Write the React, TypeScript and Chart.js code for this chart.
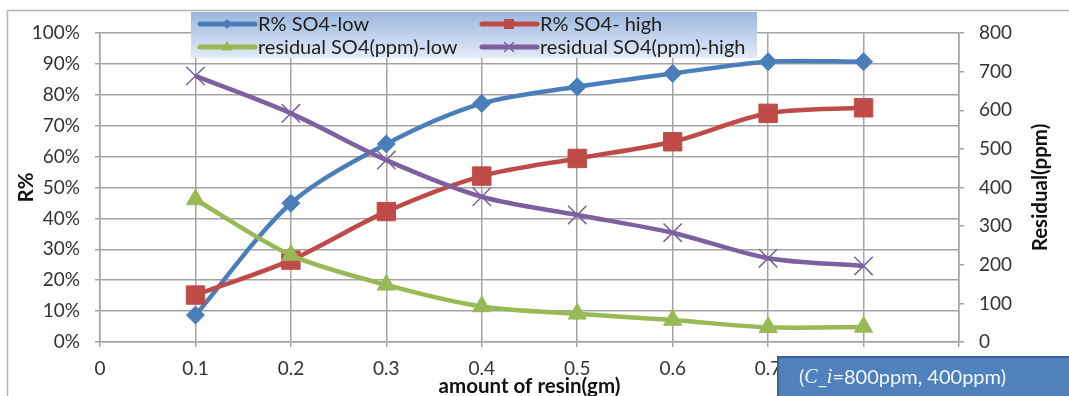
import React, { useEffect, useRef } from 'react';
import { Chart, registerables } from 'chart.js';

Chart.register(...registerables);

// ---------- data ----------
const resinAmounts = [0.1, 0.2, 0.3, 0.4, 0.5, 0.6, 0.7, 0.8];
const rPercentLow = [8.7, 44.9, 64.1, 77.2, 82.6, 86.9, 90.7, 90.7];
const rPercentHigh = [15.2, 26.5, 42.2, 53.7, 59.4, 64.8, 74.0, 75.8];
const residualLow = [369, 225, 148, 92, 73, 57, 38, 39];
const residualHigh = [689, 592, 471, 376, 329, 283, 217, 197];

const seriesLabels = [
  'R% SO4-low',
  'R% SO4- high',
  'residual SO4(ppm)-low',
  'residual SO4(ppm)-high',
];
const seriesColors = ['#4a7ebb', '#be4b48', '#98b954', '#7d60a0'];
const seriesMarkers = ['rectRot', 'rect', 'triangle', 'crossRot'];

const xTitle = 'amount of resin(gm)';
const yLeftTitle = 'R%';
const yRightTitle = 'Residual(ppm)';
const noteParts = [
  { t: '(', italic: false },
  { t: 'C', italic: true },
  { t: '_', italic: false },
  { t: 'i', italic: true },
  { t: '=800ppm, 400ppm)', italic: false },
];

const FONT = 'Lato';
const W = 1069;
const H = 396;

function toPoints(ys: number[]) {
  return resinAmounts.map((x, i) => ({ x, y: ys[i] }));
}

function drawMarker(ctx: CanvasRenderingContext2D, kind: string, x: number, y: number, s: number, color: string) {
  ctx.save();
  ctx.fillStyle = color;
  ctx.strokeStyle = color;
  ctx.beginPath();
  if (kind === 'rectRot') {
    ctx.moveTo(x - s, y);
    ctx.lineTo(x, y - s);
    ctx.lineTo(x + s, y);
    ctx.lineTo(x, y + s);
    ctx.closePath();
    ctx.fill();
  } else if (kind === 'rect') {
    ctx.rect(x - s, y - s, 2 * s, 2 * s);
    ctx.fill();
  } else if (kind === 'triangle') {
    ctx.moveTo(x, y - s);
    ctx.lineTo(x + s * 0.95, y + s * 0.6);
    ctx.lineTo(x - s * 0.95, y + s * 0.6);
    ctx.closePath();
    ctx.fill();
  } else {
    ctx.lineWidth = 1.5;
    ctx.moveTo(x - s, y - s);
    ctx.lineTo(x + s, y + s);
    ctx.moveTo(x + s, y - s);
    ctx.lineTo(x - s, y + s);
    ctx.stroke();
  }
  ctx.restore();
}

const decorPlugin = {
  id: 'decor',
  beforeDraw(chart: any) {
    const ctx: CanvasRenderingContext2D = chart.ctx;
    ctx.save();
    ctx.fillStyle = '#ffffff';
    ctx.fillRect(0, 0, W, H);
    // outer frame (top and left edges visible)
    ctx.strokeStyle = '#b4b4b4';
    ctx.lineWidth = 1.5;
    ctx.beginPath();
    ctx.moveTo(7.5, H + 5);
    ctx.lineTo(7.5, 10.5);
    ctx.lineTo(W + 5, 10.5);
    ctx.stroke();
    ctx.restore();
  },
  afterDraw(chart: any) {
    const ctx: CanvasRenderingContext2D = chart.ctx;
    const area = chart.chartArea;
    ctx.save();
    // axis titles
    ctx.fillStyle = '#111111';
    ctx.font = `bold 20.5px ${FONT}`;
    ctx.textAlign = 'center';
    ctx.textBaseline = 'middle';
    const midY = (area.top + area.bottom) / 2;
    ctx.save();
    ctx.translate(26, midY);
    ctx.rotate(-Math.PI / 2);
    ctx.fillText(yLeftTitle, 0, 0);
    ctx.restore();
    ctx.save();
    ctx.translate(1040, midY);
    ctx.rotate(-Math.PI / 2);
    ctx.fillText(yRightTitle, 0, 0);
    ctx.restore();
    ctx.fillText(xTitle, (area.left + area.right) / 2, 386);

    // legend box
    const lx = 191, ly = 12, lw = 566, lh = 46;
    const grad = ctx.createLinearGradient(0, ly, 0, ly + lh);
    grad.addColorStop(0, '#9cb7de');
    grad.addColorStop(1, '#e3ebf6');
    ctx.fillStyle = grad;
    ctx.fillRect(lx, ly, lw, lh);
    const colX = [200, 482];
    const rowY = [24, 47];
    const markerSize = [5, 5, 6, 4.5];
    ctx.font = `20px ${FONT}`;
    ctx.textAlign = 'left';
    ctx.textBaseline = 'middle';
    seriesLabels.forEach((label, i) => {
      const cx = colX[i % 2];
      const cy = rowY[Math.floor(i / 2)];
      ctx.strokeStyle = seriesColors[i];
      ctx.lineWidth = 5;
      ctx.lineCap = 'round';
      ctx.beginPath();
      ctx.moveTo(cx, cy);
      ctx.lineTo(cx + 55, cy);
      ctx.stroke();
      drawMarker(ctx, seriesMarkers[i], cx + 27, cy, markerSize[i], seriesColors[i]);
      ctx.fillStyle = '#1e1e1e';
      ctx.fillText(label, cx + 58, cy + 1);
    });

    // note box
    const bx = 777, by = 356;
    ctx.fillStyle = '#4f81bd';
    ctx.fillRect(bx, by, W - bx + 10, H - by + 10);
    ctx.strokeStyle = '#3a6393';
    ctx.lineWidth = 2;
    ctx.strokeRect(bx + 1, by + 1, W - bx + 10, H - by + 10);
    let tx = 799;
    ctx.fillStyle = '#f4f6fb';
    ctx.textBaseline = 'middle';
    noteParts.forEach((p) => {
      ctx.font = p.italic ? `italic 20px 'Liberation Serif'` : `20px ${FONT}`;
      ctx.fillText(p.t, tx, 378);
      tx += ctx.measureText(p.t).width;
    });
    ctx.restore();
  },
};

export default function App() {
  const canvasRef = useRef<HTMLCanvasElement | null>(null);

  useEffect(() => {
    const canvas = canvasRef.current;
    if (!canvas) return;
    const gridColor = '#a3a3a3';
    const tickColor = '#333333';
    const datasets = [
      { data: toPoints(rPercentLow), yAxisID: 'y', order: 3 },
      { data: toPoints(rPercentHigh), yAxisID: 'y', order: 2 },
      { data: toPoints(residualLow), yAxisID: 'y1', order: 1 },
      { data: toPoints(residualHigh), yAxisID: 'y1', order: 0 },
    ].map((d, i) => ({
      ...d,
      label: seriesLabels[i],
      borderColor: seriesColors[i],
      backgroundColor: seriesColors[i],
      pointBackgroundColor: seriesColors[i],
      pointBorderColor: seriesColors[i],
      pointStyle: seriesMarkers[i] as any,
      pointRadius: [9, 13, 10.5, 13][i],
      pointBorderWidth: i === 3 ? 1.5 : 1,
      borderWidth: 4.5,
      tension: 0.3,
      fill: false,
    }));

    const chart = new Chart(canvas, {
      type: 'line',
      data: { datasets },
      plugins: [decorPlugin],
      options: {
        animation: false,
        responsive: false,
        devicePixelRatio: 1,
        layout: { padding: { top: 33, left: 0, right: 0, bottom: 0 } },
        plugins: {
          legend: { display: false },
          tooltip: { enabled: false },
          title: { display: false },
        },
        font: { family: FONT },
        scales: {
          x: {
            type: 'linear',
            min: 0,
            max: 0.9,
            afterFit: (s: any) => { s.height = H - 342; },
            ticks: {
              stepSize: 0.1,
              color: tickColor,
              padding: 10,
              font: { family: FONT, size: 19 },
              callback: (v: any) => String(Math.round(Number(v) * 10) / 10),
            },
            grid: { color: gridColor, lineWidth: 1.5, tickLength: 5 },
            border: { color: gridColor, width: 1.5 },
          },
          y: {
            position: 'left',
            min: 0,
            max: 100,
            afterFit: (s: any) => { s.width = 100; },
            ticks: {
              stepSize: 10,
              color: tickColor,
              padding: 15,
              font: { family: FONT, size: 19 },
              callback: (v: any) => `${v}%`,
            },
            grid: { color: gridColor, lineWidth: 1.5, tickLength: 5 },
            border: { color: gridColor, width: 1.5 },
          },
          y1: {
            position: 'right',
            min: 0,
            max: 800,
            afterFit: (s: any) => { s.width = 110; },
            ticks: {
              stepSize: 100,
              color: tickColor,
              padding: 15,
              font: { family: FONT, size: 19 },
            },
            grid: { drawOnChartArea: false, color: gridColor, lineWidth: 1.5, tickLength: 5 },
            border: { color: gridColor, width: 1.5 },
          },
        },
      } as any,
    });
    return () => chart.destroy();
  }, []);

  return (
    <div style={{ position: 'absolute', left: 0, top: 0, width: W, height: H, overflow: 'hidden' }}>
      <canvas ref={canvasRef} width={W} height={H} style={{ display: 'block', width: W, height: H }} />
    </div>
  );
}
